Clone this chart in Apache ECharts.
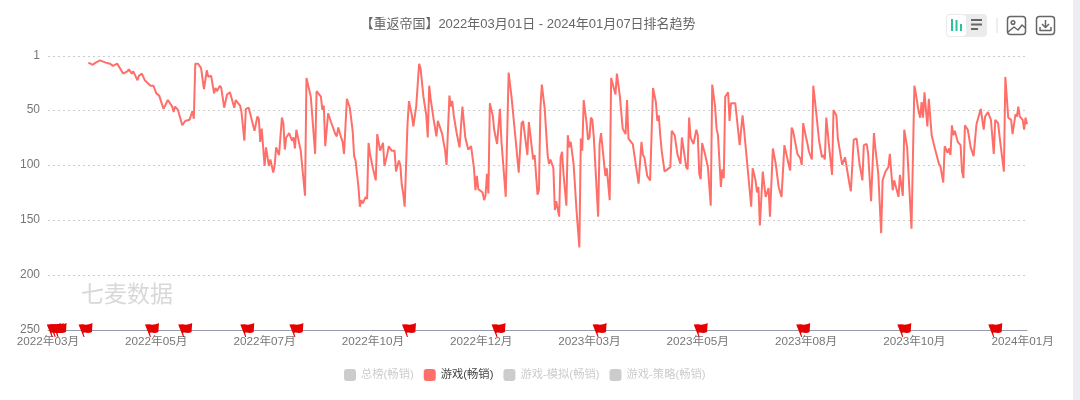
<!DOCTYPE html>
<html>
<head>
<meta charset="utf-8">
<style>html,body{margin:0;padding:0;background:#fff}#chart{width:1080px;height:400px}</style>
<script src="https://cdn.jsdelivr.net/npm/echarts@6/dist/echarts.min.js"></script>
</head>
<body>
<div id="chart"></div>
<script>
// Chart wording
const chartTitle = '【重返帝国】2022年03月01日 - 2024年01月07日排名趋势';
const watermark = '七麦数据';
const seriesNames = ['总榜(畅销)', '游戏(畅销)', '游戏-模拟(畅销)', '游戏-策略(畅销)'];
const activeSeries = '游戏(畅销)';

// Rank axis ticks
const rankTicks = [1, 50, 100, 150, 200, 250];

// Calendar range of the x axis, one category per day
const firstDay = Date.UTC(2022, 2, 1);
const dayCount = 678;

// Day offsets from the first day and the chart rank reached on that day
const rankDays = [
  28,29,31,33,36,40,43,45,48,49,52,53,55,56,58,59,62,63,65,67,71,73,75,77,80,83,86,87,88,90,93,95,98,100,101,102,104,106,108,110,111,113,115,116,117,119,120,122,124,126,129,130,133,134,136,137,139,143,145,146,147,148,150,151,153,154,156,157,158,160,162,163,164,165,167,169,170,171,172,175,178,179,182,185,186,189,190,191,192,194,196,199,200,201,203,204,205,207,209,
  211,212,213,215,216,217,218,220,221,222,223,225,226,227,228,230,232,233,235,236,238,240,241,243,244,245,246,247,249,250,252,253,255,257,258,260,262,263,264,265,266,267,269,270,273,275,276,278,279,280,281,283,285,286,287,289,291,293,295,296,297,298,301,302,303,304,305,306,308,309,311,313,314,317,319,321,324,326,328,329,332,333,336,337,339,340,341,342,344,346,347,348,350,351,352,354,355,356,357,359,360,361,362,364,366,368,369,370,371,373,374,375,376,377,378,381,382,383,386,387,389,390,391,393,394,396,398,400,401,402,405,407,409,411,412,413,415,417,419,421,422,423,424,425,427,429,431,432,434,436,438,439,440,442,443,444,445,447,449,450,451,452,453,455,457,459,
  460,462,463,464,466,467,468,469,471,472,473,476,479,481,482,483,487,488,490,491,492,493,495,496,497,499,500,501,502,504,506,508,510,511,513,514,515,516,519,521,522,523,525,526,527,529,530,532,534,536,537,538,539,541,543,544,546,547,550,552,553,555,556,558,560,562,564,565,567,568,570,572,573,575,577,578,580,582,583,585,586,589,590,592,593,595,598,600,601,603,604,605,606,607,609,610,612,614,617,618,620,621,622,623,624,625,626,627,628,630,632,633,634,635,637,639,641,643,644,646,648,649,651,653,655,656,658,659,660,662,663,665,667,668,670,671,672,673,675,676,677,678
];
const ranks = [
  7,6,9,7,5,7,8,10,8,9,17,16,15,13,17,15,23,19,17,23,28,28,35,37,49,41,47,52,47,50,64,60,59,51,58,8,8,12,31,14,20,19,35,30,33,28,30,48,36,34,48,41,46,52,78,49,48,69,56,58,79,67,101,84,101,95,107,100,84,91,57,62,86,75,71,78,75,85,68,87,128,21,38,90,33,38,50,46,83,53,61,72,74,66,75,79,90,40,48,
  69,92,96,120,138,132,135,129,131,80,90,103,102,114,72,87,80,101,90,83,87,87,106,96,100,118,126,138,62,42,55,65,47,8,12,38,55,75,28,40,41,58,74,60,72,87,100,37,47,42,55,71,84,84,47,75,86,83,103,123,110,122,125,132,128,108,126,44,55,68,81,49,78,129,16,38,79,107,62,60,91,61,95,91,127,123,49,27,49,91,99,95,103,141,133,147,93,88,108,137,73,84,79,99,141,175,76,87,41,62,77,75,57,59,75,147,81,71,110,103,132,21,22,36,17,37,67,72,41,76,81,99,117,79,91,93,110,114,30,43,60,55,73,87,106,104,102,69,73,91,99,75,84,102,104,57,75,81,68,73,108,113,80,90,102,137,
  27,47,67,73,120,104,112,38,34,60,44,44,82,55,67,66,138,103,114,125,120,155,106,105,129,121,147,146,85,99,120,129,82,83,100,105,66,69,90,94,100,62,75,81,88,95,28,52,78,93,91,95,57,84,109,50,55,76,100,93,94,117,124,77,76,99,114,82,81,90,133,71,85,108,162,114,106,102,90,123,114,129,109,128,68,84,158,28,35,52,57,43,57,34,65,40,73,84,99,101,116,83,82,89,85,91,64,73,69,79,82,106,112,64,68,84,92,63,62,49,68,56,52,59,90,59,62,74,75,106,20,57,59,72,54,56,47,56,59,68,57,63
];

// Day offsets of the event flags resting on the baseline
const flagDays = [4, 6, 8, 26, 72, 95, 138, 172, 250, 312, 382, 452, 523, 593, 656];

const FONT = '"Liberation Sans", "Noto Sans CJK SC", sans-serif';
const FLAG_PATH = 'path://M0 1.5L4.5 1.2C7.5 2.2 10.5 1.4 14 0L13.4 9C11 10.3 8.5 10 6.2 9.5L4.8 9.7L6 14L5 14L0 1.5Z';

const dayLabels = [];
for (let i = 0; i <= dayCount; i++) {
  const d = new Date(firstDay + i * 86400000);
  dayLabels.push(d.getUTCFullYear() + '年' + String(d.getUTCMonth() + 1).padStart(2, '0') + '月');
}

const rankPoints = rankDays.map((day, i) => [day, ranks[i]]);

const seriesList = seriesNames.map(name => {
  if (name !== activeSeries) {
    return { name, type: 'line', data: [], itemStyle: { color: '#ff6f69' } };
  }
  return {
    name,
    type: 'line',
    data: rankPoints,
    showSymbol: false,
    symbol: 'none',
    lineStyle: { color: '#ff6f69', width: 2 },
    itemStyle: { color: '#ff6f69' },
    markPoint: {
      symbol: FLAG_PATH,
      symbolSize: [14, 14],
      silent: true,
      label: { show: false },
      itemStyle: { color: '#e60000' },
      data: flagDays.map(day => ({ coord: [day, 250] }))
    }
  };
});

const stroke = { stroke: '#666', fill: 'none', lineWidth: 1.5, lineJoin: 'round' };
const toolbar = [
  // Page gutter on the right
  { type: 'rect', shape: { x: 1073, y: 0, width: 7, height: 400 }, style: { fill: '#eeeef2' }, silent: true },
  // Chart type switch
  { type: 'rect', shape: { x: 946, y: 14, width: 41, height: 23, r: 4 }, style: { fill: '#ebebeb' } },
  { type: 'rect', shape: { x: 947, y: 15, width: 19, height: 21, r: 3 }, style: { fill: '#fff' } },
  { type: 'rect', shape: { x: 951, y: 19, width: 2, height: 12 }, style: { fill: '#2fbf9f' } },
  { type: 'rect', shape: { x: 955.5, y: 20, width: 2, height: 11 }, style: { fill: '#2fbf9f' } },
  { type: 'rect', shape: { x: 960, y: 24, width: 2, height: 7 }, style: { fill: '#2fbf9f' } },
  { type: 'rect', shape: { x: 971, y: 19, width: 11, height: 2 }, style: { fill: '#666' } },
  { type: 'rect', shape: { x: 971, y: 23.5, width: 11, height: 2 }, style: { fill: '#666' } },
  { type: 'rect', shape: { x: 971, y: 28, width: 7, height: 2 }, style: { fill: '#666' } },
  { type: 'line', shape: { x1: 997, y1: 18, x2: 997, y2: 33 }, style: { stroke: '#ddd', lineWidth: 1 } },
  // Save as picture
  { type: 'rect', shape: { x: 1007.5, y: 16.5, width: 18, height: 18, r: 3 }, style: stroke },
  { type: 'circle', shape: { cx: 1013, cy: 22.5, r: 1.8 }, style: stroke },
  { type: 'polyline', shape: { points: [[1008, 32], [1014, 27], [1018, 30], [1022, 25], [1025.5, 28]] }, style: stroke },
  // Download
  { type: 'rect', shape: { x: 1036.5, y: 16.5, width: 18, height: 18, r: 3 }, style: stroke },
  { type: 'line', shape: { x1: 1045.5, y1: 20, x2: 1045.5, y2: 27 }, style: stroke },
  { type: 'polyline', shape: { points: [[1042, 24], [1045.5, 27.5], [1049, 24]] }, style: stroke },
  { type: 'polyline', shape: { points: [[1040, 27], [1040, 30.5], [1051, 30.5], [1051, 27]] }, style: stroke },
  // Brand mark on the plot
  { type: 'text', x: 81, y: 282, style: { text: watermark, fill: '#d8d8d8', font: '23px "Noto Sans CJK SC", sans-serif' }, silent: true }
];

const chart = echarts.init(document.getElementById('chart'), null, { renderer: 'canvas' });
chart.setOption({
  animation: false,
  backgroundColor: '#fff',
  textStyle: { fontFamily: FONT },
  title: {
    text: chartTitle,
    left: 523,
    top: 13,
    textAlign: 'center',
    textStyle: { fontSize: 13, fontWeight: 'normal', color: '#666', fontFamily: FONT }
  },
  legend: {
    left: 339,
    top: 364,
    itemWidth: 12,
    itemHeight: 12,
    itemGap: 10,
    icon: 'roundRect',
    inactiveColor: '#ccc',
    textStyle: { fontSize: 11.3, color: '#444', fontFamily: FONT },
    data: seriesNames,
    selected: Object.fromEntries(seriesNames.map(n => [n, n === activeSeries]))
  },
  grid: { left: 48, right: 53, top: 56, bottom: 70, containLabel: false },
  xAxis: {
    type: 'category',
    data: dayLabels,
    boundaryGap: false,
    axisLine: { lineStyle: { color: '#969cab', width: 1 } },
    axisTick: { show: false },
    splitLine: { show: false },
    axisLabel: { interval: 74, margin: 6, color: '#777', fontSize: 11.7, fontFamily: FONT, hideOverlap: false }
  },
  yAxis: {
    type: 'value',
    inverse: true,
    min: 1,
    max: 250,
    axisLine: { show: false },
    axisTick: { show: false, customValues: rankTicks },
    axisLabel: { color: '#777', fontSize: 12, margin: 8, fontFamily: FONT, customValues: rankTicks },
    splitLine: { show: true, lineStyle: { color: '#ccc', type: [2, 3], width: 1 } }
  },
  graphic: toolbar,
  series: seriesList
});
</script>
</body>
</html>
